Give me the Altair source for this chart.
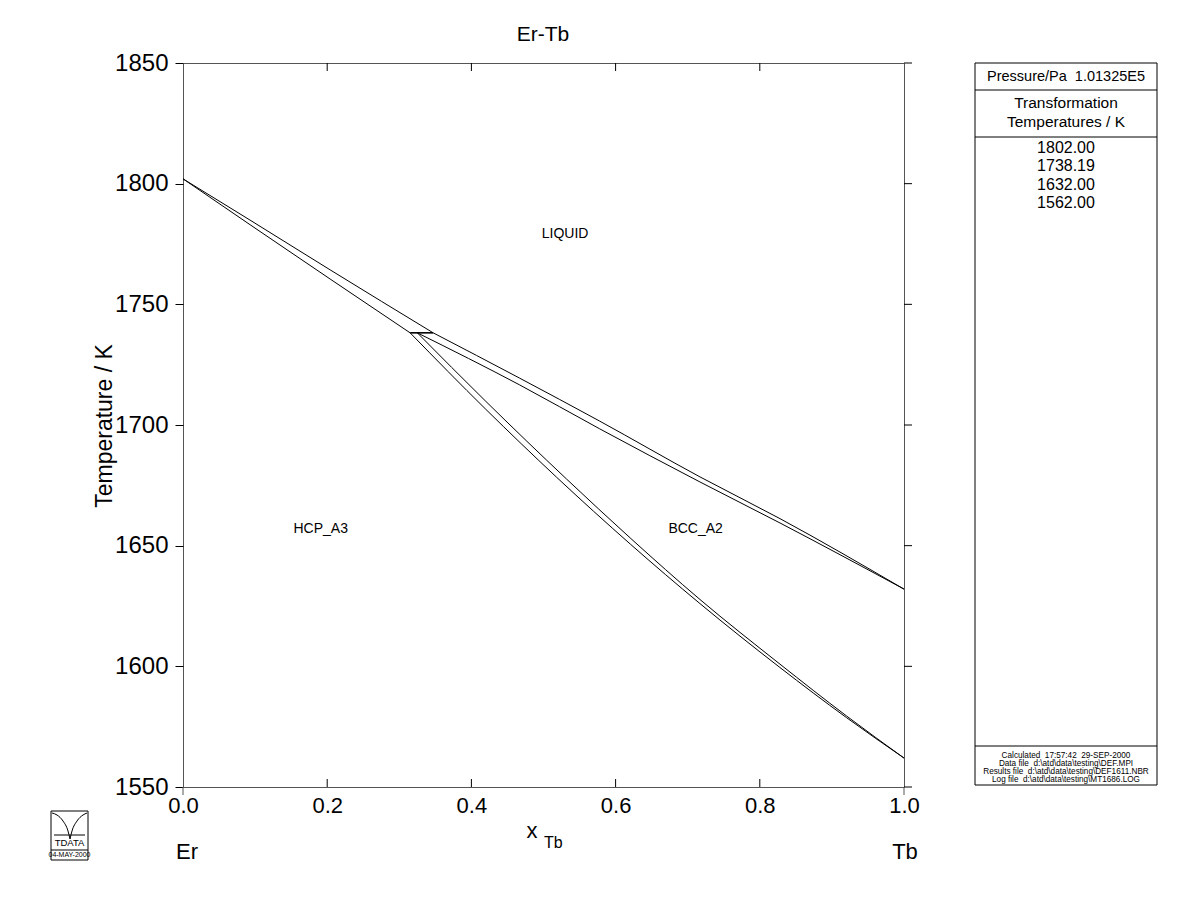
import altair as alt
import pandas as pd

FONT = "Liberation Sans"

# ---------------- data ----------------
T_PERITECTIC = 1738.19

liq_hcp_x = [0.0, 0.093, 0.204, 0.347]
liq_hcp_T = [1802.0, 1784.9, 1764.3, T_PERITECTIC]

sol_hcp_x = [0.0, 0.093, 0.204, 0.315]
sol_hcp_T = [1802.0, 1783.0, 1760.5, T_PERITECTIC]

liq_bcc_x = [0.347, 0.467, 0.578, 0.717, 0.828, 1.0]
liq_bcc_T = [T_PERITECTIC, 1719.4, 1701.6, 1678.5, 1661.2, 1632.0]

sol_bcc_x = [0.325, 0.467, 0.578, 0.717, 0.828, 1.0]
sol_bcc_T = [T_PERITECTIC, 1716.6, 1698.4, 1676.4, 1659.4, 1632.0]

hcp_solvus_x = [0.315, 0.42, 0.518, 0.621, 0.717, 0.828, 0.92, 1.0]
hcp_solvus_T = [T_PERITECTIC, 1706.5, 1678.4, 1650.5, 1626.0, 1599.5, 1578.8, 1562.0]

bcc_solvus_x = [0.325, 0.42, 0.532, 0.621, 0.717, 0.828, 0.92, 1.0]
bcc_solvus_T = [T_PERITECTIC, 1709.8, 1677.6, 1653.0, 1627.7, 1600.9, 1579.5, 1562.0]

peritectic_x = [0.315, 0.347]

phase_names = ["LIQUID", "HCP_A3", "BCC_A2"]
phase_x = [0.53, 0.191, 0.711]
phase_T = [1779.1, 1656.9, 1656.9]

x_ticks = [0.0, 0.2, 0.4, 0.6, 0.8, 1.0]
y_ticks = [1550, 1600, 1650, 1700, 1750, 1800, 1850]

transformation_temps = ["1802.00", "1738.19", "1632.00", "1562.00"]
NB = "\u00a0"
info_lines = [
    f"Calculated{NB}{NB}17:57:42{NB}{NB}29-SEP-2000",
    f"Data file{NB}{NB}d:\\atd\\data\\testing\\DEF.MPI",
    f"Results file{NB}{NB}d:\\atd\\data\\testing\\DEF1611.NBR",
    f"Log file{NB}{NB}d:\\atd\\data\\testing\\MT1686.LOG",
]

# ---------------- tables ----------------
rows = []
for name, xs_, ts in [
    ("liq_hcp", liq_hcp_x, liq_hcp_T),
    ("sol_hcp", sol_hcp_x, sol_hcp_T),
    ("liq_bcc", liq_bcc_x, liq_bcc_T),
    ("sol_bcc", sol_bcc_x, sol_bcc_T),
    ("hcp_solvus", hcp_solvus_x, hcp_solvus_T),
    ("bcc_solvus", bcc_solvus_x, bcc_solvus_T),
]:
    for i, (xv, tv) in enumerate(zip(xs_, ts)):
        rows.append({"curve": name, "x": xv, "T": tv, "o": i})
curves = pd.DataFrame(rows)

per_df = pd.DataFrame({"x": [peritectic_x[0]], "x2": [peritectic_x[1]], "T": [T_PERITECTIC]})
phase_df = pd.DataFrame({"name": phase_names, "x": phase_x, "T": phase_T})
xt_inner = pd.DataFrame({"x": x_ticks[1:-1]})
yt_df = pd.DataFrame({"T": y_ticks})

W, H = 721, 724
xs = alt.Scale(domain=[0, 1])
ys = alt.Scale(domain=[1550, 1850])
ONE = alt.Data(values=[{}])


def label(text, x, y, size, align="center", angle=0, baseline="middle"):
    kw = dict(text=text, fontSize=size, font=FONT, align=align, baseline=baseline, color="black")
    if angle:
        kw["angle"] = angle
    return alt.Chart(ONE).mark_text(**kw).encode(x=alt.value(x), y=alt.value(y))


def seg(x1, x2, y1, y2, color="black", w=1):
    return alt.Chart(ONE).mark_rule(color=color, strokeWidth=w).encode(
        x=alt.value(x1), x2=alt.value(x2), y=alt.value(y1), y2=alt.value(y2)
    )


def box(x1, x2, y1, y2, color="black", w=1):
    return alt.Chart(ONE).mark_rect(filled=False, stroke=color, strokeWidth=w).encode(
        x=alt.value(x1), x2=alt.value(x2), y=alt.value(y1), y2=alt.value(y2)
    )


lines = alt.Chart(curves).mark_line(color="black", strokeWidth=1, interpolate="monotone").encode(
    x=alt.X(
        "x:Q", scale=xs,
        axis=alt.Axis(values=x_ticks, format=".1f", ticks=False, domain=False, grid=False,
                      labelFont=FONT, labelFontSize=22, labelColor="black", labelPadding=8,
                      labelFlush=False, title=None),
    ),
    y=alt.Y(
        "T:Q", scale=ys,
        axis=alt.Axis(values=y_ticks, format="d", tickSize=8, tickColor="black", domain=False,
                      grid=False, labelFont=FONT, labelFontSize=24, labelColor="black",
                      labelPadding=7, labelFlush=False, title=None),
    ),
    detail="curve:N",
    order="o:Q",
)

peri = alt.Chart(per_df).mark_rule(color="black", strokeWidth=1.6).encode(
    x=alt.X("x:Q", scale=xs), x2="x2:Q", y=alt.Y("T:Q", scale=ys)
)

phases = alt.Chart(phase_df).mark_text(font=FONT, fontSize=14, color="black").encode(
    x=alt.X("x:Q", scale=xs), y=alt.Y("T:Q", scale=ys), text="name:N"
)

right_ticks = alt.Chart(yt_df).mark_rule(color="black").encode(
    y=alt.Y("T:Q", scale=ys), x=alt.value(W), x2=alt.value(W + 8)
)
top_ticks = alt.Chart(xt_inner).mark_rule(color="black").encode(
    x=alt.X("x:Q", scale=xs), y=alt.value(0), y2=alt.value(8)
)
bottom_ticks = alt.Chart(xt_inner).mark_rule(color="black").encode(
    x=alt.X("x:Q", scale=xs), y=alt.value(H - 8), y2=alt.value(H)
)

deco = [
    seg(0, 0, H, H + 8, color="#555"),
    seg(W, W, H, H + 8, color="#555"),
    label("Er-Tb", 360, -28, 21),
    label("Temperature / K", -78, 363, 23, angle=270),
    label("x", 349, 768, 22),
    label("Tb", 361, 780, 16, align="left"),
    label("Er", 4, 789, 22),
    label("Tb", 722, 789, 22),
    # right panel
    box(792, 974, 0, 722),
    seg(792, 974, 27, 27),
    seg(792, 974, 74, 74),
    seg(792, 974, 683, 683),
    label(f"Pressure/Pa{NB}{NB}1.01325E5", 883, 14, 14.5),
    label("Transformation", 883, 40, 15.5),
    label("Temperatures / K", 883, 59, 15.5),
]
for i, t in enumerate(transformation_temps):
    deco.append(label(t, 883, 85 + i * 18.3, 16))
for i, t in enumerate(info_lines):
    deco.append(label(t, 883, 693 + i * 8, 8.2))

# logo (small decorative emblem, pixel layout)
logo_arc_left = pd.DataFrame({"px": [-131, -126, -120, -115, -113], "py": [750, 752, 758, 768, 776]})
logo_arc_right = pd.DataFrame({"px": [-113, -111, -106, -100, -96], "py": [776, 768, 758, 752, 750]})
logo_layers = [
    box(-132, -95, 748, 797),
    seg(-132, -95, 787, 787),
    seg(-129, -98, 772, 772),
    alt.Chart(logo_arc_left).mark_line(color="black", strokeWidth=1, interpolate="monotone").encode(
        x=alt.X("px:Q", scale=None), y=alt.Y("py:Q", scale=None)),
    alt.Chart(logo_arc_right).mark_line(color="black", strokeWidth=1, interpolate="monotone").encode(
        x=alt.X("px:Q", scale=None), y=alt.Y("py:Q", scale=None)),
    label("TDATA", -113.5, 780, 9.5),
    label("04-MAY-2000", -113.5, 792, 7),
]

chart = alt.layer(
    lines, peri, phases, right_ticks, top_ticks, bottom_ticks, *deco, *logo_layers
).properties(
    width=W, height=H,
    autosize=alt.AutoSizeParams(type="none"),
    padding={"left": 183, "top": 63, "right": 296, "bottom": 136},
    background="white",
).configure_view(stroke="#555", strokeWidth=1)

chart.save("out.html", embed_options={"renderer": "svg", "actions": False})
